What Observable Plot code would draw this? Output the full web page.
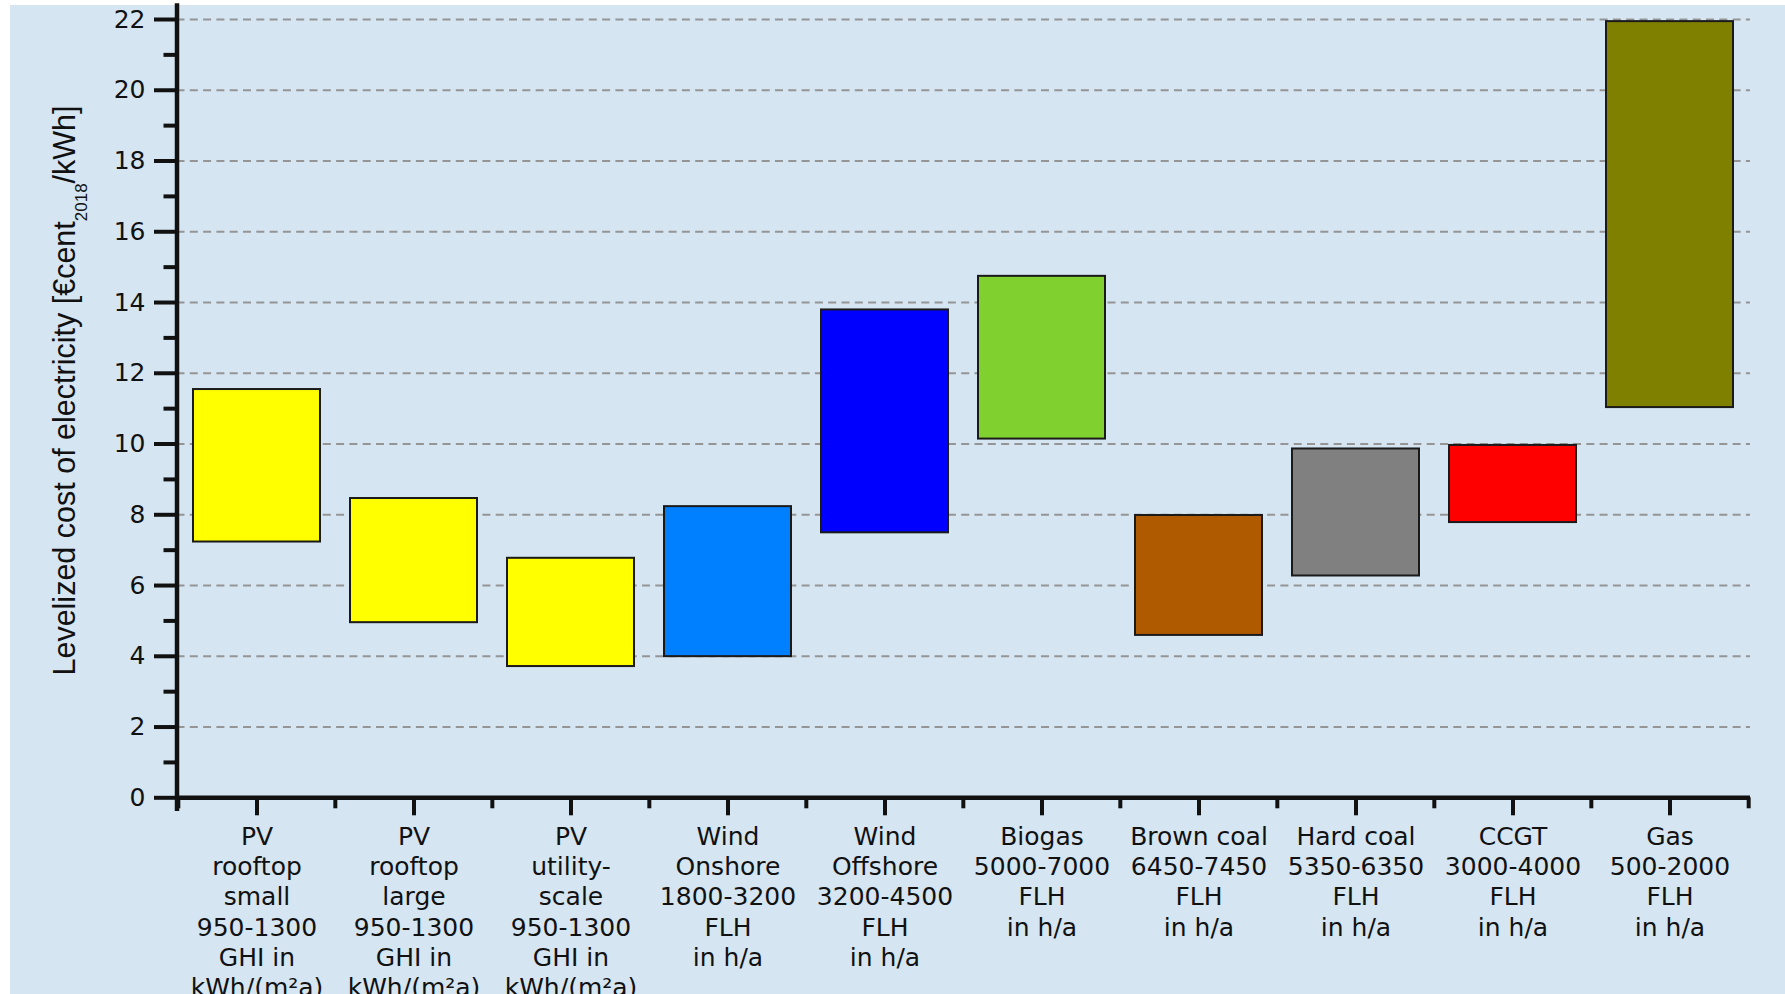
<!DOCTYPE html>
<html><head><meta charset="utf-8">
<script src="https://cdn.jsdelivr.net/npm/d3@7"></script>
<script src="https://cdn.jsdelivr.net/npm/@observablehq/plot@0.6"></script>
<style>
html,body{margin:0;padding:0;background:#fff;overflow:hidden;width:1785px;height:994px;}
#wrap{position:absolute;left:10px;top:5px;width:1775px;height:989px;background:#d5e5f2;}
</style></head><body><div id="wrap"></div>
<script>
const categories = ["PV rooftop small", "PV rooftop large", "PV utility-scale", "Wind Onshore", "Wind Offshore", "Biogas", "Brown coal", "Hard coal", "CCGT", "Gas"];
const tickLabels = [
  "PV\nrooftop\nsmall\n950-1300\nGHI in\nkWh/(m²a)",
  "PV\nrooftop\nlarge\n950-1300\nGHI in\nkWh/(m²a)",
  "PV\nutility-\nscale\n950-1300\nGHI in\nkWh/(m²a)",
  "Wind\nOnshore\n1800-3200\nFLH\nin h/a",
  "Wind\nOffshore\n3200-4500\nFLH\nin h/a",
  "Biogas\n5000-7000\nFLH\nin h/a",
  "Brown coal\n6450-7450\nFLH\nin h/a",
  "Hard coal\n5350-6350\nFLH\nin h/a",
  "CCGT\n3000-4000\nFLH\nin h/a",
  "Gas\n500-2000\nFLH\nin h/a"
];
const lowValues  = [7.23, 4.95, 3.71, 3.99, 7.49, 10.14, 4.59, 6.27, 7.78, 11.03];
const highValues = [11.54, 8.46, 6.77, 8.23, 13.79, 14.74, 7.98, 9.86, 9.96, 21.94];
const barColors = ["#ffff00", "#ffff00", "#ffff00", "#0080ff", "#0000ff", "#80d030", "#b05a00", "#808080", "#ff0000", "#808000"];
const yMajorTicks = [0, 2, 4, 6, 8, 10, 12, 14, 16, 18, 20, 22];
const yMinorTicks = [1, 3, 5, 7, 9, 11, 13, 15, 17, 19, 21];
const yLabelMain = "Levelized cost of electricity [€cent";
const yLabelSub = "2018";
const yLabelEnd = "/kWh]";

const data = categories.map((c, i) => ({category: c, low: lowValues[i], high: highValues[i]}));
const labelOf = new Map(categories.map((c, i) => [c, tickLabels[i]]));

const W = 1775, H = 989, mL = 166.5, mR = 35, mT = 14, mB = 196.7;
const step = (W - mL - mR) / categories.length;
const ink = "#111";

const chart = Plot.plot({
  width: W, height: H,
  marginLeft: mL, marginRight: mR, marginTop: mT, marginBottom: mB,
  style: {background: "transparent", fontFamily: "'DejaVu Sans', sans-serif", color: ink, overflow: "visible"},
  x: {domain: categories, paddingInner: 0.19, paddingOuter: 0.095, axis: null},
  y: {domain: [0, 22], axis: null},
  color: {domain: categories, range: barColors},
  marks: [
    Plot.gridY(yMajorTicks.filter(d => d > 0), {stroke: "#959595", strokeOpacity: 1, strokeWidth: 2, strokeDasharray: "8,5.3"}),
    Plot.barY(data, {x: "category", y1: "low", y2: "high", fill: "category", stroke: "#1a1a1a", strokeWidth: 2}),
    Plot.axisY(yMajorTicks, {label: null, tickSize: 22.5, tickPadding: 9, strokeWidth: 4, stroke: ink, fill: ink, fontSize: 25}),
    Plot.axisY(yMinorTicks, {label: null, tickSize: 13, strokeWidth: 4, stroke: ink, tickFormat: () => ""}),
    Plot.axisX(categories, {label: null, tickSize: 18, tickPadding: 7.5, strokeWidth: 4, stroke: ink, fill: ink, fontSize: 25, lineHeight: 1.21, tickFormat: d => labelOf.get(d)}),
    Plot.axisX(categories, {label: null, tickSize: 11, strokeWidth: 4, stroke: ink, dx: -step / 2, tickFormat: () => ""}),
    Plot.axisX(categories.slice(-1), {label: null, tickSize: 11, strokeWidth: 4, stroke: ink, dx: step / 2, tickFormat: () => ""}),
    Plot.ruleY([0], {strokeWidth: 4.5, stroke: ink}),
    Plot.frame({anchor: "left", strokeWidth: 4.5, stroke: ink, insetTop: -14, insetBottom: -11})
  ]
});

const svg = d3.select(chart);
const t = svg.append("text")
  .attr("transform", "translate(65,385.5) rotate(-90)")
  .attr("text-anchor", "middle")
  .attr("font-family", "'Liberation Sans', Arial, sans-serif")
  .attr("font-size", 30.5)
  .attr("fill", ink);
t.append("tspan").text(yLabelMain);
t.append("tspan").attr("font-size", 17).attr("dy", 12).text(yLabelSub);
t.append("tspan").attr("dy", -12).text(yLabelEnd);

document.getElementById("wrap").appendChild(chart);
</script>
</body></html>
